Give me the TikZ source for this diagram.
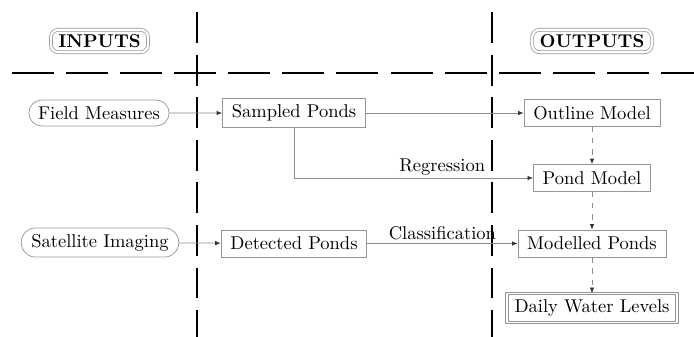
\documentclass[tikz,border=0pt]{standalone}
\usetikzlibrary{arrows.meta,shapes.misc}
\definecolor{bordergray}{RGB}{150,150,150}
\definecolor{linegray}{RGB}{140,140,140}
\tikzset{
  px/.style={x=0.54pt,y=-0.54pt},
  sep/.style={line width=0.65pt,black},
  vsep/.style={sep,dash pattern=on 16.7pt off 6.3pt},
  hsep/.style={sep,dash pattern=on 22.7pt off 6.5pt},
  headbox/.style={draw=bordergray,double=white,double distance=1.2pt,rounded corners=4pt,inner xsep=4pt,inner ysep=2.5pt,font=\bfseries},
  srcbox/.style={draw=bordergray,rounded rectangle,inner xsep=4pt,minimum height=14pt},
  procbox/.style={draw=bordergray,rectangle,inner xsep=5pt,minimum height=14.5pt},
  finalbox/.style={draw=bordergray,double=white,double distance=1pt,rectangle,inner xsep=4pt,minimum height=13.5pt},
  conn/.style={draw=linegray,line width=0.4pt,-{Latex[length=3pt,width=2.4pt,color=black!80]}},
  dconn/.style={conn,dash pattern=on 3pt off 3pt}
}
\begin{document}
\begin{tikzpicture}[px]
\useasboundingbox (0,0) rectangle (694,337);
% separators
\draw[vsep] (197,12) -- (197,337);
\draw[vsep] (492,12) -- (492,337);
\draw[hsep] (12,73) -- (694,73);
% headers
\node[headbox] (inputs) at (99.5,41) {INPUTS};
\node[headbox] (outputs) at (592,41) {OUTPUTS};
% nodes
\node[srcbox] (field) at (99,113) {Field Measures};
\node[srcbox] (sat) at (100,242.5) {Satellite Imaging};
\node[procbox] (sampled) at (294,113) {Sampled Ponds};
\node[procbox] (detected) at (294,243.5) {Detected Ponds};
\node[procbox] (outline) at (592,113) {Outline Model};
\node[procbox] (pond) at (592,178) {Pond Model};
\node[procbox] (modelled) at (592,243.5) {Modelled Ponds};
\node[finalbox] (daily) at (592,308) {Daily Water Levels};
% connectors
\draw[conn] (field) -- (sampled);
\draw[conn] (sat) -- (detected);
\draw[conn] (sampled) -- (outline);
\draw[conn] (sampled.south) |- node[pos=0.81,above,inner sep=1.5pt,text=black] {Regression} (pond.west);
\draw[conn] (detected) -- node[pos=0.5,above,inner sep=1.5pt,text=black] {Classification} (modelled);
\draw[dconn] (outline) -- (pond);
\draw[dconn] (pond) -- (modelled);
\draw[dconn] (modelled) -- (daily);
\end{tikzpicture}
\end{document}
